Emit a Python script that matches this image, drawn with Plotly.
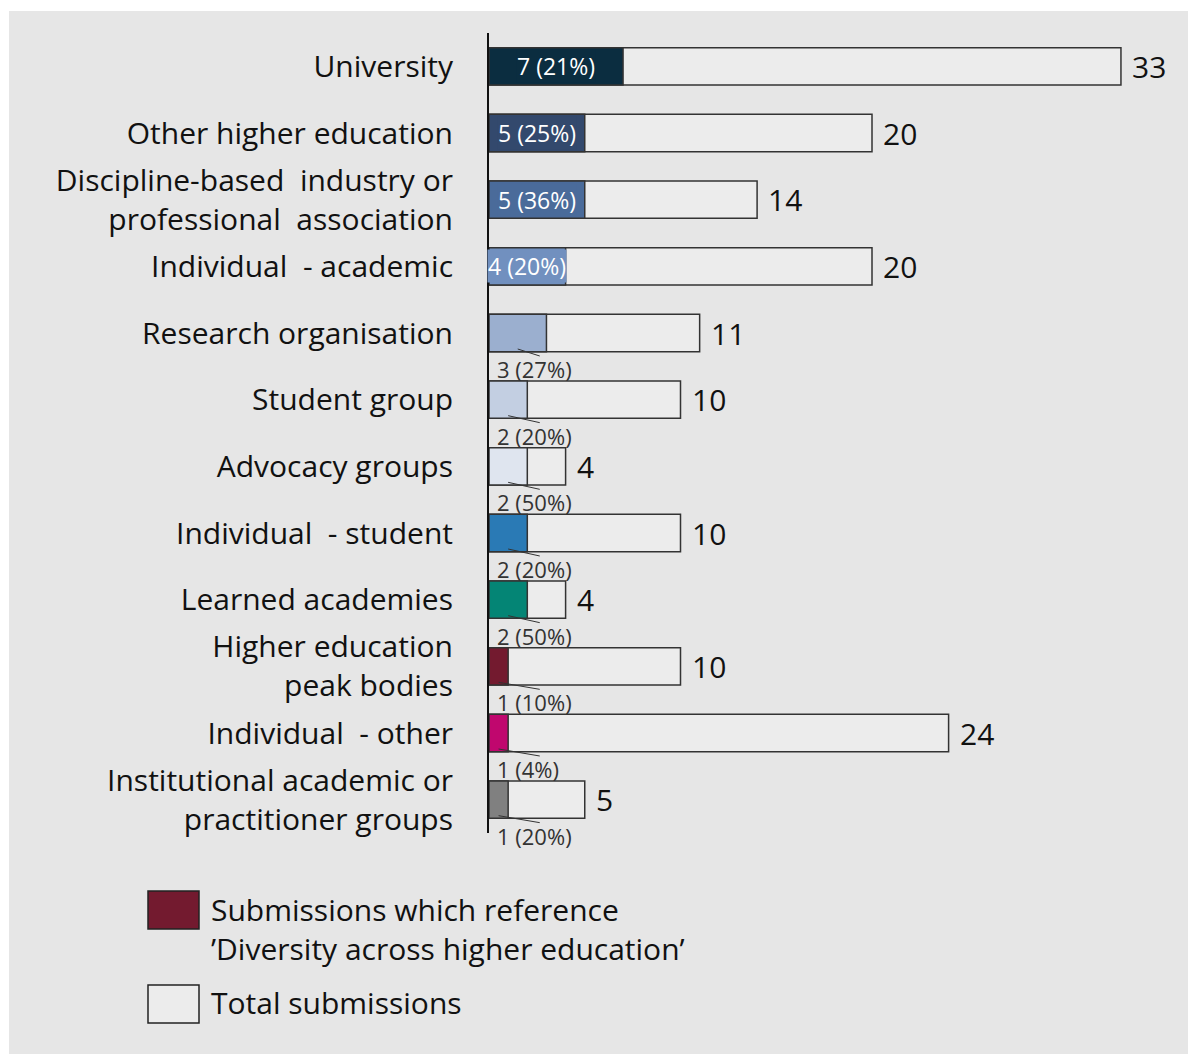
import plotly.graph_objects as go

categories = [
    "University",
    "Other higher education",
    "Discipline-based\u00a0 industry or<br>professional\u00a0 association",
    "Individual\u00a0 - academic",
    "Research organisation",
    "Student group",
    "Advocacy groups",
    "Individual\u00a0 - student",
    "Learned academies",
    "Higher education<br>peak bodies",
    "Individual\u00a0 - other",
    "Institutional academic or<br>practitioner groups",
]
total_submissions = [33, 20, 14, 20, 11, 10, 4, 10, 4, 10, 24, 5]
diversity_submissions = [7, 5, 5, 4, 3, 2, 2, 2, 2, 1, 1, 1]
diversity_pct = [21, 25, 36, 20, 27, 20, 50, 20, 50, 10, 4, 20]
bar_colors = ["#0b2d40", "#33496d", "#4a6b9a", "#7190bf", "#9bafcf", "#c3cfe2",
              "#dfe5ef", "#2a7ab5", "#048575", "#731a2f", "#c0076e", "#808080"]

FONT = "Open Sans"
BG = "#e6e6e6"
W, H = 1189, 1054
L, R, T, B = 489, 1178, 33, 833


def px(x):
    return (x - L) / (R - L)


def py(y):
    return (B - y) / (B - T)


idx = list(range(len(categories)))

fig = go.Figure()
fig.add_trace(go.Bar(
    y=idx, x=total_submissions, orientation="h", width=0.56,
    marker=dict(color="rgba(236,236,236,1)", line=dict(color="#333333", width=1.5)),
    hoverinfo="skip", showlegend=False,
))
fig.add_trace(go.Bar(
    y=idx, x=diversity_submissions, orientation="h", width=0.56,
    marker=dict(color=bar_colors, line=dict(color="#333333", width=1.5)),
    hoverinfo="skip", showlegend=False,
))

annotations = []
shapes = []

# white frame strips (top, left, right) over the grey page
shapes.append(dict(type="rect", xref="paper", yref="paper", layer="below",
                   x0=px(0), x1=px(W), y0=py(11), y1=py(0), fillcolor="white", line=dict(width=0)))
shapes.append(dict(type="rect", xref="paper", yref="paper", layer="below",
                   x0=px(0), x1=px(9), y0=py(H), y1=py(0), fillcolor="white", line=dict(width=0)))
shapes.append(dict(type="rect", xref="paper", yref="paper", layer="below",
                   x0=px(1188), x1=px(W), y0=py(H), y1=py(0), fillcolor="white", line=dict(width=0)))

for i, (t, d, p, c) in enumerate(zip(total_submissions, diversity_submissions, diversity_pct, bar_colors)):
    annotations.append(dict(x=t, y=i, xref="x", yref="y", text=str(t), showarrow=False,
                            xanchor="left", xshift=9, font=dict(family=FONT, size=30, color="#111111")))
    label = f"{d} ({p}%)"
    if i < 4:
        annotations.append(dict(x=d / 2, y=i, xref="x", yref="y", text=label, showarrow=False,
                                xanchor="center", bgcolor=c, borderpad=0,
                                font=dict(family=FONT, size=23, color="white")))
    else:
        annotations.append(dict(x=0, y=i, xref="x", yref="y", text=label, showarrow=False,
                                xanchor="left", xshift=6, yshift=-36,
                                font=dict(family=FONT, size=22, color="#333333")))
        shapes.append(dict(type="line", xref="x", yref="y", x0=d / 2, x1=2.65,
                           y0=i + 0.24, y1=i + 0.345, line=dict(color="#333333", width=1)))

# legend
shapes.append(dict(type="rect", xref="paper", yref="paper", x0=px(148), x1=px(199),
                   y0=py(929), y1=py(891), fillcolor="#731a2f", line=dict(color="#222222", width=1.5)))
shapes.append(dict(type="rect", xref="paper", yref="paper", x0=px(148), x1=px(199),
                   y0=py(1023), y1=py(985), fillcolor="#ececec", line=dict(color="#222222", width=1.5)))
annotations.append(dict(xref="paper", yref="paper", x=px(209), y=py(929), xanchor="left", yanchor="middle",
                        align="left", showarrow=False,
                        text="Submissions which reference<br>\u2019Diversity across higher education\u2019",
                        font=dict(family=FONT, size=30, color="#111111")))
annotations.append(dict(xref="paper", yref="paper", x=px(209), y=py(1003), xanchor="left", yanchor="middle",
                        align="left", showarrow=False, text="Total submissions",
                        font=dict(family=FONT, size=30, color="#111111")))

fig.update_layout(
    width=W, height=H,
    margin=dict(l=L, r=W - R, t=T, b=H - B, pad=0),
    barmode="overlay",
    paper_bgcolor=BG,
    plot_bgcolor="rgba(0,0,0,0)",
    showlegend=False,
    annotations=annotations,
    shapes=shapes,
    xaxis=dict(range=[0, (R - L) / 19.15], showgrid=False, zeroline=False, showticklabels=False,
               showline=False, fixedrange=True),
    yaxis=dict(range=[11.5, -0.5], tickvals=idx, ticktext=categories, showgrid=False,
               zeroline=False, showline=True, linecolor="#111111", linewidth=2, ticks="",
               ticklabelstandoff=28, tickfont=dict(family=FONT, size=30, color="#111111"),
               fixedrange=True),
)

fig.write_html("out.html")
